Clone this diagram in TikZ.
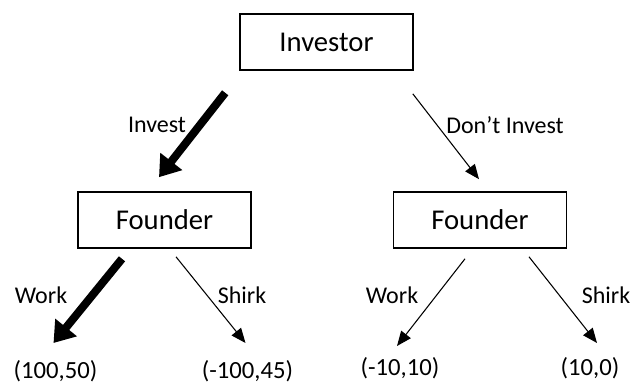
\documentclass[tikz,border=0pt]{standalone}
\usepackage{fontspec}
\setmainfont{Carlito}
\usetikzlibrary{arrows.meta}

\tikzset{
	player/.style={draw,line width=1.2pt,minimum width=129.75pt,minimum height=42pt,inner sep=0pt,font=\fontsize{21.5}{24}\selectfont},
	move/.style={font=\fontsize{18}{20}\selectfont},
	payoff/.style={font=\fontsize{18.5}{20}\selectfont},
	bold move/.style={line width=6pt,-{Triangle[length=15pt,width=20pt]}},
	thin move/.style={line width=0.8pt,-{Triangle[length=11pt,width=9pt]}}
}

\begin{document}
\begin{tikzpicture}[x=0.75pt,y=-0.75pt]
\useasboundingbox (0,0) rectangle (633,385);
\draw (326.5,42) node[player](Investor) {Investor};
	\draw (164.5,220) node[player](FounderL) {Founder};
	\draw (480,220) node[player](FounderR) {Founder};
	\draw (157,125) node[move](Invest) {Invest};
	\draw (505,125) node[move](DontInvest) {Don't Invest};
		\draw (41,295) node[move](WorkL) {Work};
		\draw (242,295) node[move](ShirkL) {Shirk};
		\draw (392,295) node[move](WorkR) {Work};
		\draw (606,295) node[move](ShirkR) {Shirk};
			\draw (55.5,371) node[payoff](PayWW) {(100,50)};
			\draw (247.5,371) node[payoff](PayWS) {(-100,45)};
			\draw (400,368) node[payoff](PayNW) {(-10,10)};
			\draw (590,368) node[payoff](PayNS) {(10,0)};

\draw[bold move] ([shift={(-14,22)}]Investor.south west) -- ([shift={(-5.5,-14)}]FounderL.north);
\draw[thin move] ([shift={(-1,23)}]Investor.south east) -- ([shift={(-1,-12)}]FounderR.north);
\draw[bold move] ([shift={(-42.5,10)}]FounderL.south) -- ([shift={(-2,-28)}]PayWW.center);
\draw[thin move] ([shift={(11.5,8)}]FounderL.south) -- ([shift={(-2,-28)}]PayWS.center);
\draw[thin move] ([shift={(-15,10)}]FounderR.south) -- ([shift={(-3,-22)}]PayNW.center);
\draw[thin move] ([shift={(49,8)}]FounderR.south) -- ([shift={(7,-25)}]PayNS.center);
\end{tikzpicture}
\end{document}
